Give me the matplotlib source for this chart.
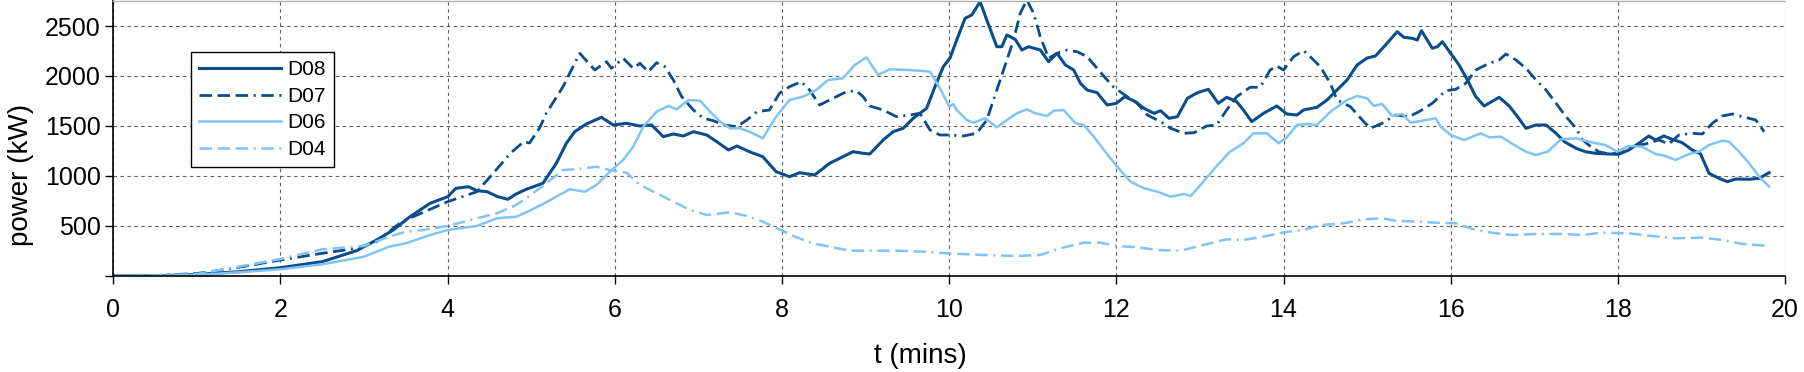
import matplotlib
matplotlib.use("Agg")
import matplotlib.pyplot as plt

plt.rcParams['font.family'] = ['Liberation Sans', 'DejaVu Sans']
plt.rcParams['lines.scale_dashes'] = False

# (t in mins, power in kW)
d08 = [(0.00, 0), (0.50, 3), (1.00, 15), (1.50, 43), (2.00, 83), (2.50, 143), (2.91, 253),
       (3.15, 360), (3.35, 460), (3.55, 593), (3.79, 727), (4.00, 793), (4.10, 877), (4.25, 893),
       (4.35, 853), (4.47, 843), (4.60, 793), (4.72, 767), (4.82, 820), (4.94, 867), (5.14, 927),
       (5.30, 1127), (5.42, 1327), (5.52, 1443), (5.66, 1520), (5.84, 1587), (5.98, 1510),
       (6.14, 1527), (6.30, 1500), (6.44, 1510), (6.58, 1393), (6.70, 1420), (6.82, 1400),
       (6.94, 1443), (7.10, 1410), (7.22, 1343), (7.36, 1260), (7.46, 1300), (7.61, 1243),
       (7.77, 1193), (7.93, 1043), (8.09, 993), (8.21, 1033), (8.39, 1010), (8.57, 1127),
       (8.73, 1193), (8.85, 1243), (8.97, 1227), (9.05, 1220), (9.21, 1360), (9.33, 1443),
       (9.45, 1477), (9.57, 1577), (9.73, 1677), (9.83, 1893), (9.93, 2093), (10.01, 2180),
       (10.09, 2360), (10.19, 2577), (10.27, 2610), (10.37, 2743), (10.45, 2560), (10.57, 2293),
       (10.63, 2293), (10.69, 2410), (10.79, 2367), (10.87, 2260), (10.95, 2293), (11.09, 2260),
       (11.19, 2143), (11.29, 2227), (11.39, 2110), (11.49, 2060), (11.57, 1927), (11.65, 1860),
       (11.77, 1833), (11.89, 1710), (12.00, 1727), (12.10, 1793), (12.23, 1743), (12.33, 1677),
       (12.45, 1627), (12.53, 1653), (12.63, 1577), (12.73, 1593), (12.85, 1777), (12.97, 1833),
       (13.10, 1867), (13.22, 1727), (13.32, 1787), (13.44, 1743), (13.52, 1660), (13.62, 1543),
       (13.76, 1627), (13.92, 1700), (14.04, 1620), (14.16, 1610), (14.24, 1660), (14.40, 1687),
       (14.52, 1760), (14.64, 1860), (14.76, 1960), (14.88, 2110), (15.00, 2180), (15.10, 2200),
       (15.22, 2310), (15.36, 2443), (15.44, 2387), (15.54, 2377), (15.60, 2360), (15.65, 2453),
       (15.78, 2277), (15.84, 2293), (15.90, 2343), (16.00, 2227), (16.10, 2110), (16.20, 1960),
       (16.30, 1793), (16.40, 1700), (16.58, 1787), (16.70, 1700), (16.80, 1593), (16.90, 1477),
       (17.02, 1510), (17.14, 1510), (17.26, 1427), (17.36, 1343), (17.50, 1277), (17.61, 1243),
       (17.73, 1227), (17.89, 1220), (18.01, 1217), (18.13, 1260), (18.25, 1327), (18.37, 1400),
       (18.45, 1360), (18.55, 1400), (18.65, 1367), (18.77, 1333), (18.89, 1260), (18.99, 1220),
       (19.09, 1027), (19.21, 977), (19.31, 943), (19.41, 970), (19.57, 967), (19.69, 977),
       (19.81, 1033)]

d07 = [(0.00, 0), (0.50, 5), (1.00, 25), (1.16, 43), (1.50, 87), (2.00, 160), (2.50, 227),
       (2.91, 277), (3.15, 343), (3.45, 543), (3.79, 667), (4.00, 743), (4.35, 843), (4.51, 993),
       (4.75, 1227), (4.91, 1343), (4.98, 1330), (5.10, 1480), (5.18, 1627), (5.38, 1893),
       (5.58, 2227), (5.76, 2060), (5.90, 2143), (5.96, 2077), (6.10, 2177), (6.22, 2077),
       (6.30, 2127), (6.40, 2043), (6.50, 2133), (6.60, 2093), (6.70, 1960), (6.80, 1793),
       (6.94, 1660), (7.06, 1577), (7.18, 1553), (7.30, 1510), (7.46, 1493), (7.58, 1560),
       (7.70, 1643), (7.85, 1660), (7.97, 1827), (8.09, 1893), (8.23, 1943), (8.33, 1860),
       (8.45, 1710), (8.61, 1777), (8.77, 1843), (8.89, 1853), (8.97, 1793), (9.05, 1700),
       (9.21, 1660), (9.37, 1593), (9.53, 1610), (9.65, 1627), (9.77, 1460), (9.89, 1410),
       (10.00, 1410), (10.17, 1400), (10.33, 1427), (10.45, 1560), (10.53, 1760), (10.65, 2060),
       (10.77, 2360), (10.85, 2627), (10.93, 2760), (11.01, 2627), (11.09, 2393), (11.19, 2177),
       (11.29, 2227), (11.41, 2260), (11.53, 2243), (11.65, 2193), (11.77, 2077), (11.89, 1960),
       (11.97, 1887), (12.13, 1793), (12.25, 1727), (12.37, 1610), (12.53, 1543), (12.65, 1477),
       (12.81, 1427), (12.93, 1433), (13.08, 1500), (13.20, 1510), (13.32, 1660), (13.44, 1793),
       (13.60, 1887), (13.72, 1887), (13.84, 2060), (13.92, 2100), (14.00, 2060), (14.12, 2193),
       (14.24, 2253), (14.32, 2193), (14.44, 2093), (14.56, 1927), (14.64, 1760), (14.80, 1693),
       (14.96, 1543), (15.04, 1477), (15.18, 1527), (15.34, 1610), (15.50, 1593), (15.62, 1643),
       (15.78, 1727), (15.94, 1853), (16.06, 1867), (16.18, 1927), (16.30, 2060), (16.46, 2127),
       (16.58, 2160), (16.66, 2220), (16.78, 2160), (16.90, 2077), (17.02, 1960), (17.14, 1860),
       (17.26, 1727), (17.38, 1593), (17.50, 1477), (17.57, 1367), (17.65, 1310), (17.77, 1243),
       (17.89, 1220), (18.05, 1233), (18.17, 1300), (18.33, 1320), (18.49, 1360), (18.61, 1320),
       (18.73, 1410), (18.89, 1427), (19.01, 1420), (19.13, 1527), (19.25, 1600), (19.37, 1620),
       (19.49, 1593), (19.65, 1560), (19.75, 1443)]

d06 = [(0.00, 0), (0.50, 2), (1.00, 10), (1.50, 37), (2.00, 67), (2.50, 117), (3.00, 193),
       (3.30, 293), (3.50, 327), (3.79, 410), (4.00, 460), (4.35, 500), (4.59, 577), (4.82, 593),
       (4.98, 653), (5.14, 720), (5.30, 793), (5.46, 867), (5.64, 843), (5.78, 910), (5.94, 1043),
       (6.10, 1160), (6.22, 1293), (6.34, 1493), (6.50, 1643), (6.64, 1700), (6.74, 1667),
       (6.88, 1760), (7.02, 1753), (7.14, 1643), (7.26, 1543), (7.38, 1477), (7.50, 1477),
       (7.61, 1443), (7.77, 1377), (7.93, 1593), (8.09, 1760), (8.25, 1793), (8.41, 1860),
       (8.55, 1960), (8.73, 1977), (8.87, 2110), (9.01, 2187), (9.15, 2010), (9.29, 2067),
       (9.49, 2060), (9.65, 2053), (9.77, 2043), (9.89, 1877), (10.00, 1693), (10.05, 1720),
       (10.09, 1660), (10.21, 1560), (10.29, 1533), (10.43, 1577), (10.57, 1487), (10.69, 1560),
       (10.81, 1627), (10.93, 1667), (11.03, 1627), (11.17, 1600), (11.25, 1653), (11.37, 1660),
       (11.51, 1527), (11.61, 1510), (11.73, 1393), (11.85, 1260), (12.01, 1093), (12.17, 943),
       (12.33, 877), (12.49, 843), (12.65, 793), (12.81, 820), (12.89, 800), (13.04, 943),
       (13.20, 1100), (13.36, 1243), (13.52, 1327), (13.64, 1427), (13.80, 1427), (13.94, 1327),
       (14.04, 1387), (14.16, 1510), (14.28, 1520), (14.40, 1510), (14.56, 1643), (14.76, 1760),
       (14.88, 1800), (15.00, 1777), (15.08, 1700), (15.18, 1720), (15.30, 1600), (15.42, 1620),
       (15.52, 1533), (15.66, 1553), (15.82, 1577), (15.88, 1493), (16.00, 1410), (16.16, 1360),
       (16.36, 1427), (16.46, 1387), (16.60, 1393), (16.76, 1310), (16.90, 1243), (17.02, 1210),
       (17.16, 1243), (17.32, 1367), (17.50, 1377), (17.65, 1343), (17.85, 1310), (17.99, 1243),
       (18.13, 1300), (18.29, 1293), (18.45, 1220), (18.57, 1200), (18.69, 1160), (18.85, 1220),
       (18.97, 1243), (19.09, 1310), (19.25, 1353), (19.33, 1343), (19.45, 1243), (19.57, 1127),
       (19.69, 993), (19.81, 893)]

d04 = [(0.00, 0), (0.50, 5), (1.00, 20), (1.50, 93), (2.00, 170), (2.50, 267), (3.00, 300),
       (3.30, 393), (3.50, 443), (3.70, 460), (4.00, 500), (4.35, 577), (4.59, 627), (4.82, 710),
       (4.98, 800), (5.18, 927), (5.38, 1060), (5.54, 1067), (5.78, 1093), (5.94, 1060),
       (6.14, 1033), (6.30, 910), (6.50, 827), (6.70, 743), (6.90, 660), (7.10, 610), (7.38, 637),
       (7.58, 600), (7.77, 543), (7.97, 467), (8.17, 387), (8.37, 327), (8.57, 293), (8.81, 253),
       (9.05, 253), (9.37, 253), (9.69, 243), (10.00, 225), (10.41, 210), (10.81, 200),
       (11.09, 210), (11.33, 277), (11.61, 333), (11.81, 333), (12.01, 300), (12.25, 287),
       (12.49, 260), (12.77, 253), (13.04, 310), (13.32, 367), (13.52, 360), (13.80, 400),
       (14.00, 437), (14.24, 460), (14.44, 510), (14.72, 527), (14.96, 567), (15.18, 577),
       (15.34, 553), (15.62, 543), (15.82, 533), (16.06, 527), (16.30, 460), (16.54, 427),
       (16.74, 410), (17.02, 420), (17.34, 420), (17.58, 410), (17.81, 433), (18.13, 427),
       (18.41, 400), (18.69, 377), (19.01, 383), (19.25, 360), (19.49, 320), (19.81, 300)]

xticks = list(range(0, 21, 2))
yticks = [0, 500, 1000, 1500, 2000, 2500]
ytick_labels = ['', '500', '1000', '1500', '2000', '2500']

dark = '#0b4d8a'
light = '#80c4f5'
dashdot = (0, (9, 4, 9, 4, 9, 4, 1.5, 4))

fig = plt.figure(figsize=(18.04, 3.72), dpi=100)
ax = fig.add_axes([0.0628, 0.2581, 0.9267, 0.7392])

series = [
    ('D08', d08, dark, '-', 2.2),
    ('D07', d07, dark, dashdot, 2.0),
    ('D06', d06, light, '-', 1.8),
    ('D04', d04, light, dashdot, 1.8),
]
for name, pts, col, ls, lw in series:
    t = [p[0] for p in pts]
    kw = [p[1] for p in pts]
    ax.plot(t, kw, color=col, linestyle=ls, linewidth=lw, label=name)

ax.set_xlim(0, 20)
ax.set_ylim(0, 2750)
ax.set_xticks(xticks)
ax.set_yticks(yticks)
ax.set_yticklabels(ytick_labels)
ax.tick_params(axis='both', labelsize=18, direction='out', length=6, width=1, colors='black')
ax.tick_params(axis='x', pad=10)
ax.tick_params(axis='y', pad=3)

ax.grid(True, color='#606060', linestyle=(0, (2.5, 2.5)), linewidth=0.8)
ax.set_axisbelow(True)

ax.spines['right'].set_visible(False)
ax.spines['top'].set_color('#b0b0b0')
ax.spines['top'].set_linewidth(1)
ax.spines['left'].set_linewidth(1.2)
ax.spines['bottom'].set_linewidth(1.2)

ax.set_xlabel('t (mins)', fontsize=20)
ax.set_ylabel('power (kW)', fontsize=20)
ax.xaxis.set_label_coords(0.483, -0.245)
ax.yaxis.set_label_coords(-0.0475, 0.367)

leg = ax.legend(loc='upper left', bbox_to_anchor=(0.0465, 0.8145), borderaxespad=0,
                fontsize=15, handlelength=3.9, handletextpad=0.3, labelspacing=0.36,
                borderpad=0.4, fancybox=False, framealpha=1, edgecolor='black')
leg.get_frame().set_linewidth(1.0)

fig.savefig('out.png', dpi=100)
